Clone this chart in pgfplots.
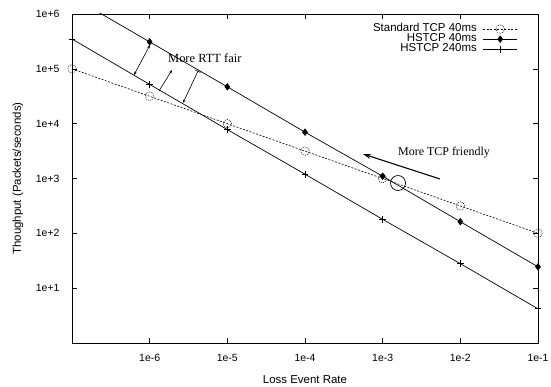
\documentclass[border=0pt]{standalone}
\usepackage{fontspec}
\setmainfont{Liberation Sans}
\newfontfamily\serifmain{Liberation Serif}
\usepackage{pgfplots}
\pgfplotsset{compat=1.18}
\usetikzlibrary{arrows.meta}
\begin{document}
\begin{tikzpicture}
\begin{axis}[
  name=ax,
  scale only axis,
  width=466bp, height=329bp,
  xmode=log, ymode=log,
  xmin=1e-7, xmax=1e-1,
  ymin=1, ymax=1e6,
  xtick={1e-6,1e-5,1e-4,1e-3,1e-2,1e-1},
  xticklabels={1e-6,1e-5,1e-4,1e-3,1e-2,1e-1},
  ytick={10,100,1000,10000,100000,1000000},
  yticklabels={1e+1,1e+2,1e+3,1e+4,1e+5,1e+6},
  minor tick style={draw=none},
  major tick length=5bp,
  tick style={black, line width=0.6pt},
  axis line style={line width=0.8pt},
  tick label style={font=\fontsize{10.5}{12}\selectfont},
  xticklabel style={yshift=-8bp},
  yticklabel style={xshift=-9bp},
  xlabel={Loss Event Rate},
  ylabel={Thoughput (Packets/seconds)},
  every axis x label/.style={at={(axis description cs:0.5,-0.1125)}, anchor=center, font=\fontsize{11.5}{13}\selectfont},
  every axis y label/.style={at={(axis description cs:-0.1159,0.5)}, anchor=center, rotate=90, font=\fontsize{11.5}{13}\selectfont},
  legend style={at={(0.963,0.978)}, anchor=north east, draw=none, fill=none,
    font=\fontsize{11.5}{11.5}\selectfont, row sep=-1.5bp, column sep=4bp,
    nodes={inner ysep=0.5bp, text height=8bp, text depth=2.5bp}},
  legend cell align=right,
  legend plot pos=right,
  legend image code/.code={\draw[mark repeat=2,mark phase=2,#1] plot coordinates {(0cm,0cm) (0.6cm,0cm) (1.2cm,0cm)};},
]
\addplot[black, line width=0.6pt, dash pattern=on 2pt off 1.5pt,
  mark=o, mark size=4.3pt, mark options={solid, dash pattern=on 1pt off 1pt, line width=0.5pt}]
  coordinates {(1e-7,1e5) (1e-6,3.16e4) (1e-5,1e4) (1e-4,3.16e3) (1e-3,1e3) (1e-2,316) (1e-1,100)};
\addlegendentry{Standard TCP 40ms}
\addplot[black, line width=0.7pt, mark=diamond*, mark size=3.2pt, mark indices={1,2,3,4,5,6}, forget plot]
  coordinates {(1e-7,2.05e6) (1e-6,3.1e5) (1e-5,4.7e4) (1e-4,7.0e3) (1e-3,1.1e3) (1e-2,163) (1e-1,24.5)};
\addlegendimage{black, line width=0.7pt, mark=diamond*, mark size=3.2pt}
\addlegendentry{HSTCP 40ms}
\addplot[black, line width=0.7pt, mark=+, mark size=3.5pt]
  coordinates {(1e-7,3.5e5) (1e-6,5.2e4) (1e-5,7.8e3) (1e-4,1.2e3) (1e-3,180) (1e-2,28) (1e-1,4.2)};
\addlegendentry{HSTCP 240ms}
% annotations
\draw[black, line width=0.6pt, {Stealth[length=3.5pt,width=2.5pt]}-{Stealth[length=3.5pt,width=2.5pt]}]
  (rel axis cs:0.1330,0.8146) -- (rel axis cs:0.1674,0.9058);
\draw[black, line width=0.6pt, -{Stealth[length=3.5pt,width=2.5pt]}]
  (rel axis cs:0.1867,0.7660) -- (rel axis cs:0.2146,0.8298);
\draw[black, line width=0.6pt, {Stealth[length=3.5pt,width=2.5pt]}-{Bar[width=6pt]}]
  (rel axis cs:0.2382,0.7295) -- (rel axis cs:0.2704,0.8267);
\node[anchor=west, inner sep=0pt, font=\serifmain\fontsize{12.5}{14}\selectfont] at (rel axis cs:0.206,0.866) {More RTT fair};
\node[anchor=west, inner sep=0pt, font=\serifmain\fontsize{12}{14}\selectfont] at (rel axis cs:0.6996,0.5775) {More TCP friendly};
\draw[black, line width=1.1pt, -{Stealth[length=8pt,width=5pt]}]
  (rel axis cs:0.7897,0.4985) -- (rel axis cs:0.6245,0.5745);
\draw[black, line width=0.7pt] (rel axis cs:0.6996,0.4863) circle[radius=7.5bp];
\end{axis}
\pgfresetboundingbox
\path ([shift={(-72bp,-44bp)}]ax.south west) rectangle ([shift={(13bp,14bp)}]ax.north east);
\end{tikzpicture}
\end{document}
